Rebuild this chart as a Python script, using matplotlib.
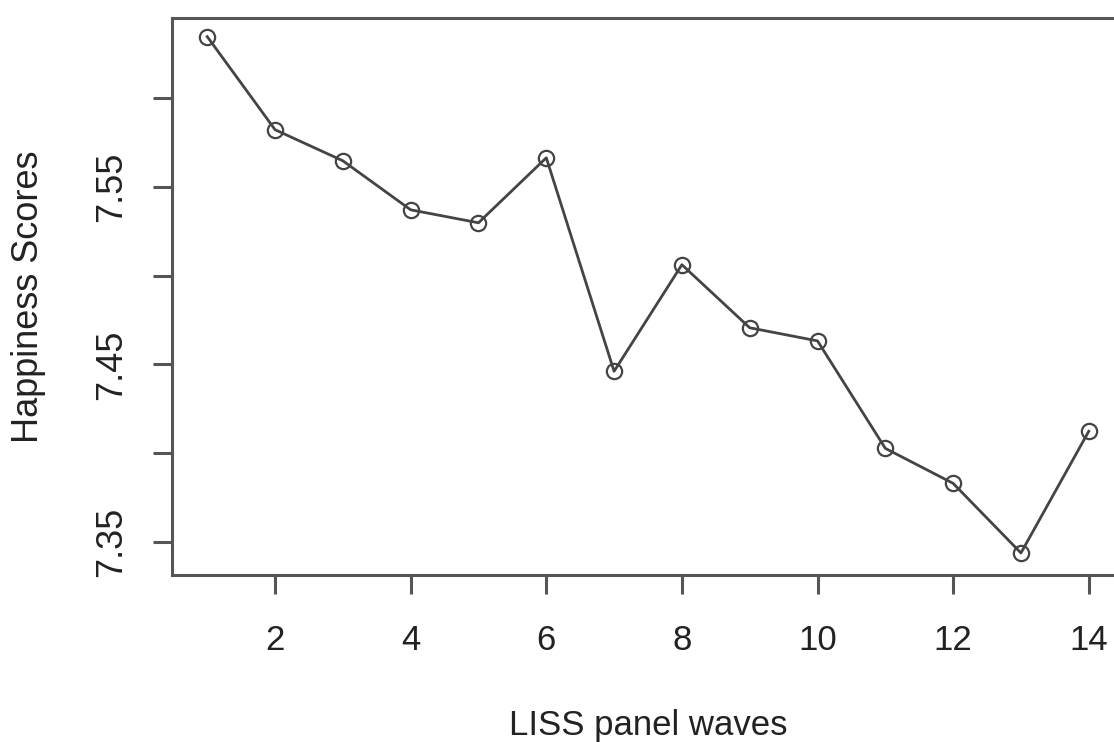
import matplotlib.pyplot as plt

# happiness scores per LISS panel wave
waves = list(range(1, 15))
scores = [7.6345, 7.5821, 7.5646, 7.5370, 7.5297, 7.5663, 7.4461,
          7.5061, 7.4706, 7.4632, 7.4027, 7.3830, 7.3438, 7.4123]
y_ticks = [7.35, 7.40, 7.45, 7.50, 7.55, 7.60]
y_labels = ['7.35', '', '7.45', '', '7.55', '']
x_ticks = [2, 4, 6, 8, 10, 12, 14]

plt.rcParams['font.family'] = ['Liberation Sans', 'DejaVu Sans']

fig = plt.figure(figsize=(11.14, 7.42), dpi=100)
ax = fig.add_axes([172/1114, 1 - 575/742, (1124 - 172)/1114, (575 - 18)/742])

ax.plot(waves, scores, color='#444444', lw=2, marker='o', ms=11,
        mfc='none', mec='#444444', mew=1.6, clip_on=False)

ax.set_xlim(0.48, 14.52)
ax.set_ylim(7.3314, 7.645)
ax.set_xticks(x_ticks)
ax.set_xticklabels([str(t) for t in x_ticks], fontsize=25)
ax.set_yticks(y_ticks)
ax.set_yticklabels(y_labels, rotation=90, va='center', fontsize=26)

for s in ax.spines.values():
    s.set_color('#555555')
    s.set_linewidth(2.2)
ax.tick_params(colors='#555555', labelcolor='#222222',
               length=14, width=2.2)
ax.tick_params(axis='x', pad=21)
ax.tick_params(axis='y', pad=17)

fig.text(648/1114, 1 - 735/742, 'LISS panel waves', ha='center', va='baseline',
         fontsize=25, color='#222222')
fig.text(29/1114, 1 - 297/742, 'Happiness Scores', ha='center', va='center',
         rotation=90, fontsize=26, color='#222222')

fig.savefig('out.png', dpi=100)
